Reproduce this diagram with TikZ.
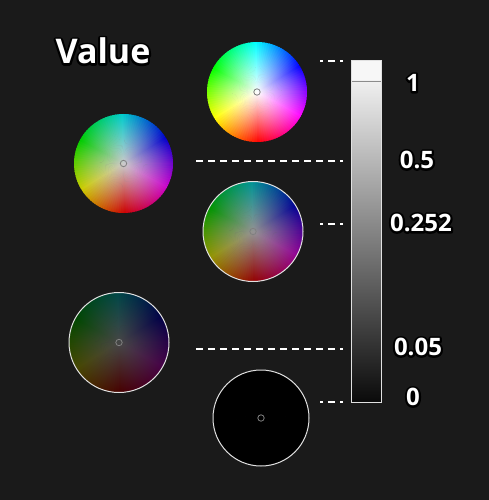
\documentclass[tikz,border=0pt]{standalone}
\usepackage{fontspec}
\setmainfont{Open Sans}
\usetikzlibrary{fadings,positioning}

\definecolor{bgcol}{RGB}{26,26,26}
\definecolor{rimcol}{RGB}{225,225,225}

\tikzfading[name=wheelfade, inner color=transparent!0, outer color=transparent!100]

% black halo behind white text (stroked copy)
\newcommand{\halo}[1]{\rlap{\special{pdf:literal direct 1 Tr 4.2 w 1 j 0 0 0 RG}#1\special{pdf:literal direct 0 Tr}}#1}

% hue wheel painted at the centre of a node: node, radius, brightness, rim (y/n)
\newcommand{\paintwheel}[4]{%
  \begin{scope}[shift={(#1.center)}]
    \foreach \a in {0,3,...,357} {
      \pgfmathsetmacro\hh{mod(630-\a,360)}
      \definecolor{wedge}{Hsb}{\hh,1,#3}
      \fill[wedge] (0,0) -- (\a:#2) arc[start angle=\a, end angle=\a+4, radius=#2] -- cycle;
    }
    \pgfmathsetmacro\gg{100*#3}
    \fill[white!\gg!black, path fading=wheelfade] (0,0) circle (#2);
    \ifx#4y\draw[rimcol, line width=1pt] (0,0) circle (#2);\fi
    \draw[gray, line width=0.8pt] (0,0) circle (3.2pt);
  \end{scope}}

\begin{document}
\begin{tikzpicture}[x=1pt, y=-1pt,
  wheel/.style={circle, minimum size=100pt, inner sep=0pt},
  bar/.style={rectangle, minimum width=29pt, minimum height=341pt, inner sep=0pt},
  tick/.style={white, line width=2.6pt, dash pattern=on 7pt off 5pt, dash phase=4pt},
  lbl/.style={text=white, font=\fontsize{24}{28}\selectfont\bfseries},
  ttl/.style={text=white, font=\fontsize{34}{40}\selectfont\bfseries}
  ]

  % Background
  \fill[bgcol] (0,0) rectangle (489,500);

  % Nodes
  \node[ttl] (title) at (103,51) {\halo{Value}};

  \node[wheel] (w1) at (257,92) {};
  \node[wheel] (w2) at (123.5,163.5) {};
  \node[wheel] (w3) at (253,231.5) {};
  \node[wheel] (w4) at (119,342.5) {};
  \node[wheel, minimum size=96pt] (w5) at (261,418) {};

  \paintwheel{w1}{50pt}{1}{n}
  \paintwheel{w2}{49.5pt}{0.8}{n}
  \paintwheel{w3}{50pt}{0.58}{y}
  \paintwheel{w4}{50pt}{0.28}{y}
  \paintwheel{w5}{48pt}{0}{y}

  \node[bar] (bar) at (366.5,231.5) {};
  \fill[white!97!black] (bar.north west) rectangle ([yshift=-20pt]bar.north east);
  \shade[top color=white!94!black, bottom color=black!96!white]
    ([yshift=-20pt]bar.north west) rectangle (bar.south east);
  \draw[gray!90, line width=1.5pt] ([yshift=-20.5pt]bar.north west) -- ([yshift=-20.5pt]bar.north east);
  \draw[rimcol, line width=1pt] (bar.north west) rectangle (bar.south east);

  \node[lbl] (l1) at (413,83) {\halo{1}};
  \node[lbl] (l2) at (417,160) {\halo{0.5}};
  \node[lbl] (l3) at (421,223) {\halo{0.252}};
  \node[lbl] (l4) at (418,347) {\halo{0.05}};
  \node[lbl] (l5) at (413,397) {\halo{0}};

  % Ticks
  \coordinate (t1) at (343,61);
  \coordinate (t2) at (343,161);
  \coordinate (t3) at (343,224);
  \coordinate (t4) at (343,349);
  \coordinate (t5) at (343,402);
  \draw[tick] (t1) -- ++(-23,0);
  \draw[tick] (t2) -- ++(-148,0);
  \draw[tick] (t3) -- ++(-23,0);
  \draw[tick] (t4) -- ++(-148,0);
  \draw[tick] (t5) -- ++(-23,0);

\end{tikzpicture}
\end{document}
